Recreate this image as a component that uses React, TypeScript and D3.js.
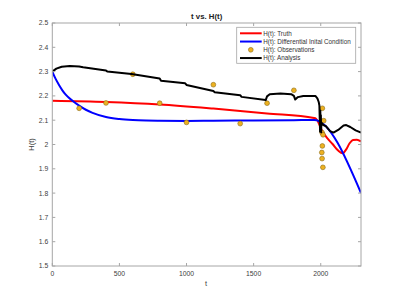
import React from "react";
import * as d3 from "d3";

const truthT = [0, 400, 800, 1200, 1600, 1950, 1965, 2013, 2050, 2088, 2130, 2163, 2190, 2215, 2240, 2270, 2300];
const truthH = [2.180, 2.175, 2.165, 2.148, 2.128, 2.109, 2.106, 2.053, 2.025, 2.002, 1.975, 1.964, 1.98, 2.005, 2.019, 2.02, 2.013];

const diffT = [0, 25, 50, 75, 100, 150, 200, 250, 300, 400, 500, 600, 700, 800, 1000, 1200, 1500, 1800, 1951, 2300];
const diffH = [2.300, 2.270, 2.245, 2.223, 2.205, 2.180, 2.160, 2.143, 2.130, 2.113, 2.105, 2.101, 2.099, 2.098, 2.097, 2.098, 2.099, 2.100, 2.101, 1.800];

const obsT = [200, 400, 600, 800, 1000, 1200, 1400, 1600, 1800, 2012, 2022, 2010, 2017, 2012, 2008, 2010, 2016];
const obsH = [2.149, 2.171, 2.289, 2.170, 2.091, 2.246, 2.086, 2.170, 2.223, 2.149, 2.098, 2.049, 2.040, 1.994, 1.967, 1.942, 1.906];

const anaT = [0, 30, 70, 130, 200, 230, 400, 410, 590, 800, 810, 990, 1000, 1200, 1210, 1400, 1410, 1590, 1600, 1620, 1700, 1780, 1800, 1810, 1830, 1870, 1960, 1975, 1985, 1990, 1995, 1997, 1999, 2001, 2003, 2005, 2020, 2040, 2070, 2095, 2130, 2170, 2190, 2220, 2260, 2300];
const anaH = [2.300, 2.312, 2.320, 2.323, 2.321, 2.318, 2.305, 2.300, 2.290, 2.272, 2.262, 2.252, 2.245, 2.220, 2.215, 2.203, 2.196, 2.183, 2.198, 2.207, 2.210, 2.207, 2.200, 2.185, 2.195, 2.200, 2.200, 2.190, 2.175, 2.160, 2.053, 2.140, 2.060, 2.120, 2.050, 2.090, 2.080, 2.075, 2.055, 2.049, 2.060, 2.078, 2.080, 2.072, 2.058, 2.049];

const xTicks = [0, 500, 1000, 1500, 2000];
const yTicks = [1.5, 1.6, 1.7, 1.8, 1.9, 2.0, 2.1, 2.2, 2.3, 2.4, 2.5];

const legendItems = [
  { label: "H(t): Truth", color: "#FF0000", type: "line" },
  { label: "H(t): Differential Inital Condition", color: "#0000FF", type: "line" },
  { label: "H(t): Observations", color: "#EDB120", type: "dot" },
  { label: "H(t): Analysis", color: "#000000", type: "line" },
];

const W = 399, H = 299;
const L = 52.3, R = 361, T = 23, B = 266;
const font = "'Liberation Sans', Arial, Helvetica, sans-serif";

export default function App() {
  const x = d3.scaleLinear().domain([0, 2300]).range([L, R]);
  const y = d3.scaleLinear().domain([1.5, 2.5]).range([B, T]);
  const mk = (ts: number[], hs: number[], curve: any) =>
    d3.line<number>().x((_, i) => x(ts[i])).y((d) => y(d)).curve(curve)(hs) || "";
  const truthPath = mk(truthT, truthH, d3.curveMonotoneX);
  const diffPath = mk(diffT, diffH, d3.curveMonotoneX);
  const anaPath = mk(anaT, anaH, d3.curveLinear);
  const axisColor = "#a6a6a6";
  const textColor = "#404040";
  const tl = 3;
  return (
    <svg width={W} height={H} style={{ position: "absolute", left: 0, top: 0, background: "#fff" }} fontFamily={font}>
      <rect x={0} y={0} width={W} height={H} fill="#fff" />
      <defs>
        <clipPath id="plot"><rect x={L} y={T} width={R - L} height={B - T} /></clipPath>
      </defs>
      <g clipPath="url(#plot)">
        <path d={truthPath} fill="none" stroke="#FF0000" strokeWidth={2} />
        <path d={diffPath} fill="none" stroke="#0000FF" strokeWidth={2} />
        {obsT.map((t, i) => (
          <circle key={i} cx={x(t)} cy={y(obsH[i])} r={2.4} fill="#EDB120" stroke="#8a6b1a" strokeWidth={0.6} />
        ))}
        <path d={anaPath} fill="none" stroke="#000" strokeWidth={2} strokeLinejoin="round" />
      </g>
      <rect x={L} y={T} width={R - L} height={B - T} fill="none" stroke={axisColor} strokeWidth={1} />
      {xTicks.map((t) => (
        <g key={"x" + t}>
          <line x1={x(t)} x2={x(t)} y1={B} y2={B - tl} stroke={axisColor} />
          <line x1={x(t)} x2={x(t)} y1={T} y2={T + tl} stroke={axisColor} />
          <text x={x(t)} y={B + 10} textAnchor="middle" fontSize={6.8} fill={textColor}>{t}</text>
        </g>
      ))}
      {yTicks.map((v) => (
        <g key={"y" + v}>
          <line x1={L} x2={L + tl} y1={y(v)} y2={y(v)} stroke={axisColor} />
          <line x1={R} x2={R - tl} y1={y(v)} y2={y(v)} stroke={axisColor} />
          <text x={L - 4} y={y(v) + 2.4} textAnchor="end" fontSize={6.8} fill={textColor}>{d3.format("")(Math.round(v * 10) / 10)}</text>
        </g>
      ))}
      <text x={(L + R) / 2} y={19} textAnchor="middle" fontSize={7.8} fontWeight="bold" fill="#222">t vs. H(t)</text>
      <text x={206} y={285.5} textAnchor="middle" fontSize={7.5} fill={textColor}>t</text>
      <text transform={`translate(34, ${(T + B) / 2}) rotate(-90)`} textAnchor="middle" fontSize={7.5} fill={textColor}>H(t)</text>
      <g>
        <rect x={236.7} y={27.3} width={119} height={36} fill="#fff" stroke={axisColor} strokeWidth={0.8} />
        {legendItems.map((it, i) => {
          const cy = 33.3 + i * 8.25;
          return (
            <g key={it.label}>
              {it.type === "line" ? (
                <line x1={240} x2={261.7} y1={cy} y2={cy} stroke={it.color} strokeWidth={2} />
              ) : (
                <circle cx={250.8} cy={cy} r={2.4} fill={it.color} stroke="#8a6b1a" strokeWidth={0.6} />
              )}
              <text x={263.3} y={cy + 2.2} fontSize={6.3} fill="#333">{it.label}</text>
            </g>
          );
        })}
      </g>
    </svg>
  );
}
